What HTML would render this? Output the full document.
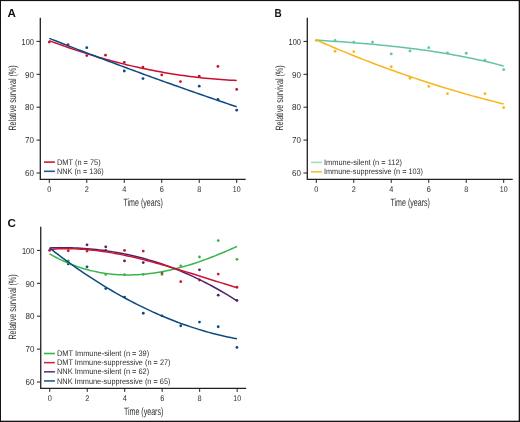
<!DOCTYPE html>
<html><head><meta charset="utf-8"><style>
html,body{margin:0;padding:0;width:520px;height:422px;overflow:hidden;background:#fff;font-family:"Liberation Sans",sans-serif;}
</style></head><body>
<svg width="520" height="422" viewBox="0 0 520 422" style="position:absolute;left:0;top:0;will-change:transform">
<rect x="0" y="0" width="520" height="422" fill="#fff"/>
<g font-family="Liberation Sans, sans-serif" text-rendering="geometricPrecision">
<text x="7.60" y="16.90" font-size="11.6" fill="#111" font-weight="bold" >A</text>
<path d="M40.30 17.80 V179.30 H245.70" fill="none" stroke="#231f20" stroke-width="1.3"/>
<line x1="36.50" y1="41.40" x2="40.30" y2="41.40" stroke="#231f20" stroke-width="1"/>
<text x="21.50" y="44.60" font-size="8.7" fill="#302d2d" textLength="12.4" lengthAdjust="spacingAndGlyphs" >100</text>
<line x1="36.50" y1="74.30" x2="40.30" y2="74.30" stroke="#231f20" stroke-width="1"/>
<text x="25.00" y="77.50" font-size="8.7" fill="#302d2d" textLength="8.9" lengthAdjust="spacingAndGlyphs" >90</text>
<line x1="36.50" y1="107.20" x2="40.30" y2="107.20" stroke="#231f20" stroke-width="1"/>
<text x="25.00" y="110.40" font-size="8.7" fill="#302d2d" textLength="8.9" lengthAdjust="spacingAndGlyphs" >80</text>
<line x1="36.50" y1="140.10" x2="40.30" y2="140.10" stroke="#231f20" stroke-width="1"/>
<text x="25.00" y="143.30" font-size="8.7" fill="#302d2d" textLength="8.9" lengthAdjust="spacingAndGlyphs" >70</text>
<line x1="36.50" y1="173.00" x2="40.30" y2="173.00" stroke="#231f20" stroke-width="1"/>
<text x="25.00" y="176.20" font-size="8.7" fill="#302d2d" textLength="8.9" lengthAdjust="spacingAndGlyphs" >60</text>
<line x1="49.30" y1="179.30" x2="49.30" y2="182.90" stroke="#231f20" stroke-width="1"/>
<text x="47.25" y="191.60" font-size="8.2" fill="#302d2d" textLength="4.1" lengthAdjust="spacingAndGlyphs" >0</text>
<line x1="86.78" y1="179.30" x2="86.78" y2="182.90" stroke="#231f20" stroke-width="1"/>
<text x="84.73" y="191.60" font-size="8.2" fill="#302d2d" textLength="4.1" lengthAdjust="spacingAndGlyphs" >2</text>
<line x1="124.26" y1="179.30" x2="124.26" y2="182.90" stroke="#231f20" stroke-width="1"/>
<text x="122.21" y="191.60" font-size="8.2" fill="#302d2d" textLength="4.1" lengthAdjust="spacingAndGlyphs" >4</text>
<line x1="161.74" y1="179.30" x2="161.74" y2="182.90" stroke="#231f20" stroke-width="1"/>
<text x="159.69" y="191.60" font-size="8.2" fill="#302d2d" textLength="4.1" lengthAdjust="spacingAndGlyphs" >6</text>
<line x1="199.22" y1="179.30" x2="199.22" y2="182.90" stroke="#231f20" stroke-width="1"/>
<text x="197.17" y="191.60" font-size="8.2" fill="#302d2d" textLength="4.1" lengthAdjust="spacingAndGlyphs" >8</text>
<line x1="236.70" y1="179.30" x2="236.70" y2="182.90" stroke="#231f20" stroke-width="1"/>
<text x="232.80" y="191.60" font-size="8.2" fill="#302d2d" textLength="7.8" lengthAdjust="spacingAndGlyphs" >10</text>
<text x="123.50" y="205.50" font-size="10.6" fill="#302d2d" textLength="39.4" lengthAdjust="spacingAndGlyphs" >Time (years)</text>
<text x="0" y="0" font-size="10.6" fill="#302d2d" text-anchor="middle" textLength="65.2" lengthAdjust="spacingAndGlyphs" transform="translate(15.80,98.00) rotate(-90)">Relative survival (%)</text>
<circle cx="49.30" cy="42.06" r="1.4" fill="#c8102e"/>
<circle cx="68.04" cy="44.69" r="1.4" fill="#c8102e"/>
<circle cx="86.78" cy="55.55" r="1.4" fill="#c8102e"/>
<circle cx="105.52" cy="55.22" r="1.4" fill="#c8102e"/>
<circle cx="124.26" cy="62.46" r="1.4" fill="#c8102e"/>
<circle cx="143.00" cy="67.06" r="1.4" fill="#c8102e"/>
<circle cx="161.74" cy="74.96" r="1.4" fill="#c8102e"/>
<circle cx="180.48" cy="81.54" r="1.4" fill="#c8102e"/>
<circle cx="199.22" cy="76.27" r="1.4" fill="#c8102e"/>
<circle cx="217.96" cy="66.40" r="1.4" fill="#c8102e"/>
<circle cx="236.70" cy="89.43" r="1.4" fill="#c8102e"/>
<circle cx="86.78" cy="47.65" r="1.4" fill="#0c4a83"/>
<circle cx="124.26" cy="71.01" r="1.4" fill="#0c4a83"/>
<circle cx="143.00" cy="78.58" r="1.4" fill="#0c4a83"/>
<circle cx="199.22" cy="86.14" r="1.4" fill="#0c4a83"/>
<circle cx="217.96" cy="99.30" r="1.4" fill="#0c4a83"/>
<circle cx="236.70" cy="110.16" r="1.4" fill="#0c4a83"/>
<polyline points="49.30,40.65 52.42,41.83 55.55,42.99 58.67,44.14 61.79,45.26 64.92,46.37 68.04,47.46 71.16,48.54 74.29,49.60 77.41,50.64 80.53,51.66 83.66,52.66 86.78,53.65 89.90,54.62 93.03,55.57 96.15,56.51 99.27,57.43 102.40,58.33 105.52,59.21 108.64,60.07 111.77,60.92 114.89,61.75 118.01,62.56 121.14,63.36 124.26,64.14 127.38,64.90 130.51,65.64 133.63,66.37 136.75,67.07 139.88,67.76 143.00,68.44 146.12,69.09 149.25,69.73 152.37,70.35 155.49,70.95 158.62,71.54 161.74,72.11 164.86,72.66 167.99,73.19 171.11,73.71 174.23,74.20 177.36,74.68 180.48,75.15 183.60,75.59 186.73,76.02 189.85,76.43 192.97,76.83 196.10,77.20 199.22,77.56 202.34,77.90 205.47,78.22 208.59,78.53 211.71,78.82 214.84,79.09 217.96,79.34 221.08,79.58 224.21,79.80 227.33,80.00 230.45,80.18 233.58,80.35 236.70,80.50" fill="none" stroke="#c8102e" stroke-width="1.5" stroke-linecap="butt" stroke-linejoin="round"/>
<polyline points="49.30,38.36 52.42,39.59 55.55,40.82 58.67,42.04 61.79,43.26 64.92,44.48 68.04,45.70 71.16,46.91 74.29,48.12 77.41,49.33 80.53,50.53 83.66,51.73 86.78,52.92 89.90,54.12 93.03,55.31 96.15,56.50 99.27,57.68 102.40,58.86 105.52,60.04 108.64,61.22 111.77,62.39 114.89,63.56 118.01,64.72 121.14,65.89 124.26,67.05 127.38,68.20 130.51,69.36 133.63,70.51 136.75,71.66 139.88,72.80 143.00,73.94 146.12,75.08 149.25,76.22 152.37,77.35 155.49,78.48 158.62,79.61 161.74,80.73 164.86,81.85 167.99,82.97 171.11,84.08 174.23,85.19 177.36,86.30 180.48,87.41 183.60,88.51 186.73,89.61 189.85,90.70 192.97,91.79 196.10,92.88 199.22,93.97 202.34,95.05 205.47,96.13 208.59,97.21 211.71,98.29 214.84,99.36 217.96,100.43 221.08,101.49 224.21,102.55 227.33,103.61 230.45,104.67 233.58,105.72 236.70,106.77" fill="none" stroke="#0c4a83" stroke-width="1.5" stroke-linecap="butt" stroke-linejoin="round"/>
<line x1="44.00" y1="162.10" x2="54.90" y2="162.10" stroke="#cc1a36" stroke-width="1.6"/>
<text x="57.00" y="164.70" font-size="8.0" fill="#302d2d" textLength="43.6" lengthAdjust="spacingAndGlyphs" >DMT (n = 75)</text>
<line x1="44.00" y1="171.30" x2="54.90" y2="171.30" stroke="#1b5c96" stroke-width="1.6"/>
<text x="57.00" y="173.90" font-size="8.0" fill="#302d2d" textLength="46.8" lengthAdjust="spacingAndGlyphs" >NNK (n = 136)</text>
<text x="274.50" y="16.90" font-size="11.6" fill="#111" textLength="7.2" lengthAdjust="spacingAndGlyphs" font-weight="bold" >B</text>
<path d="M307.30 17.80 V179.30 H512.70" fill="none" stroke="#231f20" stroke-width="1.3"/>
<line x1="303.50" y1="41.40" x2="307.30" y2="41.40" stroke="#231f20" stroke-width="1"/>
<text x="288.50" y="44.60" font-size="8.7" fill="#302d2d" textLength="12.4" lengthAdjust="spacingAndGlyphs" >100</text>
<line x1="303.50" y1="74.30" x2="307.30" y2="74.30" stroke="#231f20" stroke-width="1"/>
<text x="292.00" y="77.50" font-size="8.7" fill="#302d2d" textLength="8.9" lengthAdjust="spacingAndGlyphs" >90</text>
<line x1="303.50" y1="107.20" x2="307.30" y2="107.20" stroke="#231f20" stroke-width="1"/>
<text x="292.00" y="110.40" font-size="8.7" fill="#302d2d" textLength="8.9" lengthAdjust="spacingAndGlyphs" >80</text>
<line x1="303.50" y1="140.10" x2="307.30" y2="140.10" stroke="#231f20" stroke-width="1"/>
<text x="292.00" y="143.30" font-size="8.7" fill="#302d2d" textLength="8.9" lengthAdjust="spacingAndGlyphs" >70</text>
<line x1="303.50" y1="173.00" x2="307.30" y2="173.00" stroke="#231f20" stroke-width="1"/>
<text x="292.00" y="176.20" font-size="8.7" fill="#302d2d" textLength="8.9" lengthAdjust="spacingAndGlyphs" >60</text>
<line x1="316.30" y1="179.30" x2="316.30" y2="182.90" stroke="#231f20" stroke-width="1"/>
<text x="314.25" y="191.60" font-size="8.2" fill="#302d2d" textLength="4.1" lengthAdjust="spacingAndGlyphs" >0</text>
<line x1="353.78" y1="179.30" x2="353.78" y2="182.90" stroke="#231f20" stroke-width="1"/>
<text x="351.73" y="191.60" font-size="8.2" fill="#302d2d" textLength="4.1" lengthAdjust="spacingAndGlyphs" >2</text>
<line x1="391.26" y1="179.30" x2="391.26" y2="182.90" stroke="#231f20" stroke-width="1"/>
<text x="389.21" y="191.60" font-size="8.2" fill="#302d2d" textLength="4.1" lengthAdjust="spacingAndGlyphs" >4</text>
<line x1="428.74" y1="179.30" x2="428.74" y2="182.90" stroke="#231f20" stroke-width="1"/>
<text x="426.69" y="191.60" font-size="8.2" fill="#302d2d" textLength="4.1" lengthAdjust="spacingAndGlyphs" >6</text>
<line x1="466.22" y1="179.30" x2="466.22" y2="182.90" stroke="#231f20" stroke-width="1"/>
<text x="464.17" y="191.60" font-size="8.2" fill="#302d2d" textLength="4.1" lengthAdjust="spacingAndGlyphs" >8</text>
<line x1="503.70" y1="179.30" x2="503.70" y2="182.90" stroke="#231f20" stroke-width="1"/>
<text x="499.80" y="191.60" font-size="8.2" fill="#302d2d" textLength="7.8" lengthAdjust="spacingAndGlyphs" >10</text>
<text x="390.50" y="205.50" font-size="10.6" fill="#302d2d" textLength="39.4" lengthAdjust="spacingAndGlyphs" >Time (years)</text>
<text x="0" y="0" font-size="10.6" fill="#302d2d" text-anchor="middle" textLength="65.2" lengthAdjust="spacingAndGlyphs" transform="translate(282.80,98.00) rotate(-90)">Relative survival (%)</text>
<circle cx="335.04" cy="40.41" r="1.4" fill="#66c3a2"/>
<circle cx="353.78" cy="42.06" r="1.4" fill="#66c3a2"/>
<circle cx="372.52" cy="42.06" r="1.4" fill="#66c3a2"/>
<circle cx="391.26" cy="53.90" r="1.4" fill="#66c3a2"/>
<circle cx="410.00" cy="50.94" r="1.4" fill="#66c3a2"/>
<circle cx="428.74" cy="47.65" r="1.4" fill="#66c3a2"/>
<circle cx="447.48" cy="52.91" r="1.4" fill="#66c3a2"/>
<circle cx="466.22" cy="53.24" r="1.4" fill="#66c3a2"/>
<circle cx="484.96" cy="60.15" r="1.4" fill="#66c3a2"/>
<circle cx="503.70" cy="69.69" r="1.4" fill="#66c3a2"/>
<circle cx="316.30" cy="40.41" r="1.4" fill="#fab51c"/>
<circle cx="335.04" cy="51.27" r="1.4" fill="#fab51c"/>
<circle cx="353.78" cy="51.60" r="1.4" fill="#fab51c"/>
<circle cx="391.26" cy="66.73" r="1.4" fill="#fab51c"/>
<circle cx="410.00" cy="78.25" r="1.4" fill="#fab51c"/>
<circle cx="428.74" cy="86.47" r="1.4" fill="#fab51c"/>
<circle cx="447.48" cy="93.71" r="1.4" fill="#fab51c"/>
<circle cx="484.96" cy="93.71" r="1.4" fill="#fab51c"/>
<circle cx="503.70" cy="107.53" r="1.4" fill="#fab51c"/>
<polyline points="316.30,40.15 319.42,40.35 322.55,40.55 325.67,40.76 328.79,40.96 331.92,41.17 335.04,41.38 338.16,41.60 341.29,41.82 344.41,42.05 347.53,42.27 350.66,42.51 353.78,42.75 356.90,42.99 360.03,43.24 363.15,43.50 366.27,43.77 369.40,44.04 372.52,44.31 375.64,44.60 378.77,44.89 381.89,45.19 385.01,45.49 388.14,45.81 391.26,46.13 394.38,46.47 397.51,46.81 400.63,47.16 403.75,47.53 406.88,47.90 410.00,48.28 413.12,48.67 416.25,49.08 419.37,49.49 422.49,49.92 425.62,50.36 428.74,50.81 431.86,51.27 434.99,51.75 438.11,52.24 441.23,52.74 444.36,53.25 447.48,53.78 450.60,54.33 453.73,54.89 456.85,55.46 459.97,56.05 463.10,56.65 466.22,57.27 469.34,57.90 472.47,58.55 475.59,59.22 478.71,59.90 481.84,60.60 484.96,61.32 488.08,62.06 491.21,62.81 494.33,63.58 497.45,64.37 500.58,65.18 503.70,66.01" fill="none" stroke="#66c3a2" stroke-width="1.5" stroke-linecap="butt" stroke-linejoin="round"/>
<polyline points="316.30,39.97 319.42,41.34 322.55,42.69 325.67,44.04 328.79,45.37 331.92,46.70 335.04,48.02 338.16,49.32 341.29,50.62 344.41,51.90 347.53,53.18 350.66,54.44 353.78,55.70 356.90,56.94 360.03,58.18 363.15,59.40 366.27,60.61 369.40,61.82 372.52,63.01 375.64,64.20 378.77,65.37 381.89,66.53 385.01,67.69 388.14,68.83 391.26,69.96 394.38,71.08 397.51,72.20 400.63,73.30 403.75,74.39 406.88,75.47 410.00,76.54 413.12,77.61 416.25,78.66 419.37,79.70 422.49,80.73 425.62,81.75 428.74,82.76 431.86,83.76 434.99,84.75 438.11,85.73 441.23,86.70 444.36,87.66 447.48,88.61 450.60,89.55 453.73,90.48 456.85,91.40 459.97,92.31 463.10,93.21 466.22,94.10 469.34,94.98 472.47,95.85 475.59,96.71 478.71,97.55 481.84,98.39 484.96,99.22 488.08,100.04 491.21,100.85 494.33,101.64 497.45,102.43 500.58,103.21 503.70,103.98" fill="none" stroke="#fab51c" stroke-width="1.5" stroke-linecap="butt" stroke-linejoin="round"/>
<line x1="311.00" y1="162.40" x2="321.90" y2="162.40" stroke="#a3dac7" stroke-width="1.6"/>
<text x="324.00" y="165.00" font-size="8.0" fill="#302d2d" textLength="78.0" lengthAdjust="spacingAndGlyphs" >Immune-silent (n = 112)</text>
<line x1="311.00" y1="171.80" x2="321.90" y2="171.80" stroke="#f9bf2c" stroke-width="1.6"/>
<text x="324.00" y="174.40" font-size="8.0" fill="#302d2d" textLength="99.0" lengthAdjust="spacingAndGlyphs" >Immune-suppressive (n = 103)</text>
<text x="7.60" y="226.60" font-size="11.6" fill="#111" font-weight="bold" >C</text>
<path d="M40.75 226.80 V388.30 H246.15" fill="none" stroke="#231f20" stroke-width="1.3"/>
<line x1="36.95" y1="250.40" x2="40.75" y2="250.40" stroke="#231f20" stroke-width="1"/>
<text x="21.95" y="253.60" font-size="8.7" fill="#302d2d" textLength="12.4" lengthAdjust="spacingAndGlyphs" >100</text>
<line x1="36.95" y1="283.30" x2="40.75" y2="283.30" stroke="#231f20" stroke-width="1"/>
<text x="25.45" y="286.50" font-size="8.7" fill="#302d2d" textLength="8.9" lengthAdjust="spacingAndGlyphs" >90</text>
<line x1="36.95" y1="316.20" x2="40.75" y2="316.20" stroke="#231f20" stroke-width="1"/>
<text x="25.45" y="319.40" font-size="8.7" fill="#302d2d" textLength="8.9" lengthAdjust="spacingAndGlyphs" >80</text>
<line x1="36.95" y1="349.10" x2="40.75" y2="349.10" stroke="#231f20" stroke-width="1"/>
<text x="25.45" y="352.30" font-size="8.7" fill="#302d2d" textLength="8.9" lengthAdjust="spacingAndGlyphs" >70</text>
<line x1="36.95" y1="382.00" x2="40.75" y2="382.00" stroke="#231f20" stroke-width="1"/>
<text x="25.45" y="385.20" font-size="8.7" fill="#302d2d" textLength="8.9" lengthAdjust="spacingAndGlyphs" >60</text>
<line x1="49.75" y1="388.30" x2="49.75" y2="391.90" stroke="#231f20" stroke-width="1"/>
<text x="47.70" y="400.60" font-size="8.2" fill="#302d2d" textLength="4.1" lengthAdjust="spacingAndGlyphs" >0</text>
<line x1="87.23" y1="388.30" x2="87.23" y2="391.90" stroke="#231f20" stroke-width="1"/>
<text x="85.18" y="400.60" font-size="8.2" fill="#302d2d" textLength="4.1" lengthAdjust="spacingAndGlyphs" >2</text>
<line x1="124.71" y1="388.30" x2="124.71" y2="391.90" stroke="#231f20" stroke-width="1"/>
<text x="122.66" y="400.60" font-size="8.2" fill="#302d2d" textLength="4.1" lengthAdjust="spacingAndGlyphs" >4</text>
<line x1="162.19" y1="388.30" x2="162.19" y2="391.90" stroke="#231f20" stroke-width="1"/>
<text x="160.14" y="400.60" font-size="8.2" fill="#302d2d" textLength="4.1" lengthAdjust="spacingAndGlyphs" >6</text>
<line x1="199.67" y1="388.30" x2="199.67" y2="391.90" stroke="#231f20" stroke-width="1"/>
<text x="197.62" y="400.60" font-size="8.2" fill="#302d2d" textLength="4.1" lengthAdjust="spacingAndGlyphs" >8</text>
<line x1="237.15" y1="388.30" x2="237.15" y2="391.90" stroke="#231f20" stroke-width="1"/>
<text x="233.25" y="400.60" font-size="8.2" fill="#302d2d" textLength="7.8" lengthAdjust="spacingAndGlyphs" >10</text>
<text x="123.95" y="414.50" font-size="10.6" fill="#302d2d" textLength="39.4" lengthAdjust="spacingAndGlyphs" >Time (years)</text>
<text x="0" y="0" font-size="10.6" fill="#302d2d" text-anchor="middle" textLength="65.2" lengthAdjust="spacingAndGlyphs" transform="translate(16.25,307.00) rotate(-90)">Relative survival (%)</text>
<circle cx="68.29" cy="260.93" r="1.4" fill="#3ab54a"/>
<circle cx="105.77" cy="274.42" r="1.4" fill="#3ab54a"/>
<circle cx="124.51" cy="274.75" r="1.4" fill="#3ab54a"/>
<circle cx="143.25" cy="274.42" r="1.4" fill="#3ab54a"/>
<circle cx="161.99" cy="274.42" r="1.4" fill="#3ab54a"/>
<circle cx="180.73" cy="265.86" r="1.4" fill="#3ab54a"/>
<circle cx="199.47" cy="256.98" r="1.4" fill="#3ab54a"/>
<circle cx="218.21" cy="240.53" r="1.4" fill="#3ab54a"/>
<circle cx="236.95" cy="259.28" r="1.4" fill="#3ab54a"/>
<circle cx="49.55" cy="250.40" r="1.4" fill="#cc1530"/>
<circle cx="68.29" cy="250.73" r="1.4" fill="#cc1530"/>
<circle cx="87.03" cy="251.06" r="1.4" fill="#cc1530"/>
<circle cx="105.77" cy="250.40" r="1.4" fill="#cc1530"/>
<circle cx="124.51" cy="250.40" r="1.4" fill="#cc1530"/>
<circle cx="143.25" cy="251.06" r="1.4" fill="#cc1530"/>
<circle cx="161.99" cy="272.77" r="1.4" fill="#cc1530"/>
<circle cx="180.73" cy="281.65" r="1.4" fill="#cc1530"/>
<circle cx="199.47" cy="280.01" r="1.4" fill="#cc1530"/>
<circle cx="218.21" cy="274.09" r="1.4" fill="#cc1530"/>
<circle cx="236.95" cy="287.25" r="1.4" fill="#cc1530"/>
<circle cx="87.03" cy="244.81" r="1.4" fill="#51226b"/>
<circle cx="105.77" cy="246.78" r="1.4" fill="#51226b"/>
<circle cx="124.51" cy="260.93" r="1.4" fill="#51226b"/>
<circle cx="143.25" cy="262.57" r="1.4" fill="#51226b"/>
<circle cx="199.47" cy="269.81" r="1.4" fill="#51226b"/>
<circle cx="218.21" cy="295.14" r="1.4" fill="#51226b"/>
<circle cx="236.95" cy="300.41" r="1.4" fill="#51226b"/>
<circle cx="68.29" cy="263.89" r="1.4" fill="#0c4a83"/>
<circle cx="87.03" cy="266.85" r="1.4" fill="#0c4a83"/>
<circle cx="105.77" cy="288.56" r="1.4" fill="#0c4a83"/>
<circle cx="124.51" cy="297.12" r="1.4" fill="#0c4a83"/>
<circle cx="143.25" cy="313.24" r="1.4" fill="#0c4a83"/>
<circle cx="161.99" cy="315.87" r="1.4" fill="#0c4a83"/>
<circle cx="180.73" cy="325.74" r="1.4" fill="#0c4a83"/>
<circle cx="199.47" cy="322.12" r="1.4" fill="#0c4a83"/>
<circle cx="218.21" cy="326.73" r="1.4" fill="#0c4a83"/>
<circle cx="236.95" cy="347.46" r="1.4" fill="#0c4a83"/>
<polyline points="49.55,253.85 52.67,255.60 55.80,257.27 58.92,258.85 62.04,260.36 65.17,261.78 68.29,263.12 71.41,264.39 74.54,265.57 77.66,266.69 80.78,267.72 83.91,268.69 87.03,269.58 90.15,270.40 93.28,271.14 96.40,271.82 99.52,272.43 102.65,272.97 105.77,273.44 108.89,273.85 112.02,274.19 115.14,274.47 118.26,274.69 121.39,274.84 124.51,274.94 127.63,274.97 130.76,274.94 133.88,274.86 137.00,274.72 140.13,274.53 143.25,274.28 146.37,273.98 149.50,273.62 152.62,273.21 155.74,272.76 158.87,272.25 161.99,271.69 165.11,271.09 168.24,270.44 171.36,269.75 174.48,269.01 177.61,268.23 180.73,267.40 183.85,266.53 186.98,265.63 190.10,264.68 193.22,263.70 196.35,262.68 199.47,261.62 202.59,260.53 205.72,259.40 208.84,258.24 211.96,257.05 215.09,255.83 218.21,254.57 221.33,253.29 224.46,251.98 227.58,250.65 230.70,249.28 233.83,247.90 236.95,246.48" fill="none" stroke="#3ab54a" stroke-width="1.5" stroke-linecap="butt" stroke-linejoin="round"/>
<polyline points="49.55,247.98 52.67,247.87 55.80,247.79 58.92,247.75 62.04,247.73 65.17,247.74 68.29,247.78 71.41,247.85 74.54,247.96 77.66,248.09 80.78,248.25 83.91,248.44 87.03,248.67 90.15,248.93 93.28,249.22 96.40,249.54 99.52,249.89 102.65,250.27 105.77,250.69 108.89,251.14 112.02,251.63 115.14,252.14 118.26,252.69 121.39,253.28 124.51,253.90 127.63,254.55 130.76,255.24 133.88,255.96 137.00,256.72 140.13,257.51 143.25,258.34 146.37,259.20 149.50,260.10 152.62,261.04 155.74,262.01 158.87,263.02 161.99,264.07 165.11,265.15 168.24,266.27 171.36,267.43 174.48,268.62 177.61,269.86 180.73,271.13 183.85,272.44 186.98,273.79 190.10,275.18 193.22,276.61 196.35,278.08 199.47,279.58 202.59,281.13 205.72,282.72 208.84,284.35 211.96,286.02 215.09,287.73 218.21,289.48 221.33,291.27 224.46,293.10 227.58,294.98 230.70,296.90 233.83,298.86 236.95,300.86" fill="none" stroke="#51226b" stroke-width="1.5" stroke-linecap="butt" stroke-linejoin="round"/>
<polyline points="49.55,249.42 52.67,249.18 55.80,249.00 58.92,248.86 62.04,248.76 65.17,248.72 68.29,248.72 71.41,248.76 74.54,248.85 77.66,248.98 80.78,249.15 83.91,249.36 87.03,249.61 90.15,249.89 93.28,250.22 96.40,250.58 99.52,250.97 102.65,251.40 105.77,251.87 108.89,252.36 112.02,252.88 115.14,253.44 118.26,254.02 121.39,254.63 124.51,255.27 127.63,255.94 130.76,256.63 133.88,257.34 137.00,258.08 140.13,258.83 143.25,259.61 146.37,260.41 149.50,261.23 152.62,262.06 155.74,262.91 158.87,263.78 161.99,264.66 165.11,265.56 168.24,266.46 171.36,267.38 174.48,268.31 177.61,269.25 180.73,270.20 183.85,271.16 186.98,272.12 190.10,273.09 193.22,274.06 196.35,275.04 199.47,276.02 202.59,277.00 205.72,277.98 208.84,278.96 211.96,279.94 215.09,280.91 218.21,281.89 221.33,282.85 224.46,283.82 227.58,284.77 230.70,285.72 233.83,286.66 236.95,287.59" fill="none" stroke="#cc1530" stroke-width="1.5" stroke-linecap="butt" stroke-linejoin="round"/>
<polyline points="49.55,247.99 52.67,250.42 55.80,252.83 58.92,255.20 62.04,257.54 65.17,259.85 68.29,262.12 71.41,264.37 74.54,266.58 77.66,268.77 80.78,270.92 83.91,273.04 87.03,275.13 90.15,277.19 93.28,279.22 96.40,281.21 99.52,283.18 102.65,285.11 105.77,287.02 108.89,288.89 112.02,290.73 115.14,292.54 118.26,294.32 121.39,296.07 124.51,297.78 127.63,299.47 130.76,301.12 133.88,302.75 137.00,304.34 140.13,305.90 143.25,307.43 146.37,308.93 149.50,310.39 152.62,311.83 155.74,313.23 158.87,314.61 161.99,315.95 165.11,317.26 168.24,318.54 171.36,319.79 174.48,321.01 177.61,322.20 180.73,323.35 183.85,324.48 186.98,325.57 190.10,326.63 193.22,327.66 196.35,328.66 199.47,329.63 202.59,330.57 205.72,331.47 208.84,332.35 211.96,333.19 215.09,334.01 218.21,334.79 221.33,335.54 224.46,336.26 227.58,336.95 230.70,337.60 233.83,338.23 236.95,338.82" fill="none" stroke="#0c4a83" stroke-width="1.5" stroke-linecap="butt" stroke-linejoin="round"/>
<line x1="44.00" y1="353.50" x2="54.90" y2="353.50" stroke="#35b44a" stroke-width="1.6"/>
<text x="57.00" y="356.10" font-size="8.0" fill="#302d2d" textLength="92.2" lengthAdjust="spacingAndGlyphs" >DMT Immune-silent (n = 39)</text>
<line x1="44.00" y1="362.65" x2="54.90" y2="362.65" stroke="#d42a43" stroke-width="1.6"/>
<text x="57.00" y="365.25" font-size="8.0" fill="#302d2d" textLength="113.5" lengthAdjust="spacingAndGlyphs" >DMT Immune-suppressive (n = 27)</text>
<line x1="44.00" y1="371.80" x2="54.90" y2="371.80" stroke="#62348a" stroke-width="1.6"/>
<text x="57.00" y="374.40" font-size="8.0" fill="#302d2d" textLength="92.2" lengthAdjust="spacingAndGlyphs" >NNK Immune-silent (n = 62)</text>
<line x1="44.00" y1="380.95" x2="54.90" y2="380.95" stroke="#1b5c96" stroke-width="1.6"/>
<text x="57.00" y="383.55" font-size="8.0" fill="#302d2d" textLength="113.5" lengthAdjust="spacingAndGlyphs" >NNK Immune-suppressive (n = 65)</text>
<rect x="0" y="0" width="520" height="1.1" fill="#161213"/>
<rect x="0" y="0" width="1" height="422" fill="#161213"/>
<rect x="518.7" y="0" width="1.3" height="422" fill="#161213"/>
<rect x="0" y="420.7" width="520" height="1.3" fill="#161213"/>
</g></svg>
</body></html>
